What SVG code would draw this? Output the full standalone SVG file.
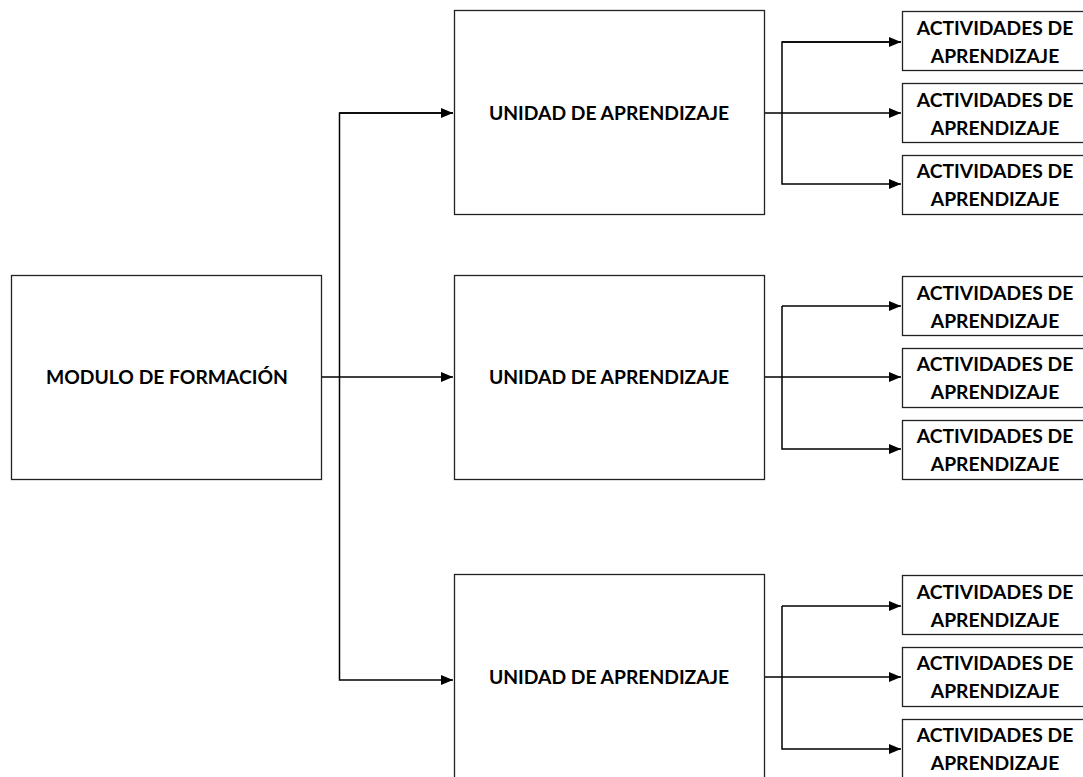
<svg xmlns="http://www.w3.org/2000/svg" width="1083" height="777" viewBox="0 0 1083 777">
<defs>
<style>
.box{fill:#fff;stroke:#222;stroke-width:1.3}
.t{font-family:Lato,"Open Sans",sans-serif;font-weight:bold;font-size:19.3px;fill:#000;text-anchor:middle}
.c{fill:none;stroke:#000;stroke-width:1.5}
</style>
<marker id="ah" markerWidth="12" markerHeight="10" refX="12" refY="5" orient="auto" markerUnits="userSpaceOnUse">
<path d="M0,0 L12,5 L0,10 Z" fill="#000"/>
</marker>
</defs>
<rect width="1083" height="777" fill="#fff"/>
<g id="connectors">
<path class="c" d="M322,377 H453" marker-end="url(#ah)"/>
<path class="c" d="M453,113 H339.5 V680 H453" marker-end="url(#ah)"/>
<path class="c" d="M339.5,113 H453" marker-end="url(#ah)"/>
<path class="c" d="M764,113 H901" marker-end="url(#ah)"/>
<path class="c" d="M901,42 H782 V184 H901" marker-end="url(#ah)"/>
<path class="c" d="M782,42 H901" marker-end="url(#ah)"/>
<path class="c" d="M764,377 H901" marker-end="url(#ah)"/>
<path class="c" d="M782,306 V449 H901" marker-end="url(#ah)"/>
<path class="c" d="M782,306 H901" marker-end="url(#ah)"/>
<path class="c" d="M764,677 H901" marker-end="url(#ah)"/>
<path class="c" d="M782,606 V749 H901" marker-end="url(#ah)"/>
<path class="c" d="M782,606 H901" marker-end="url(#ah)"/>
</g>
<g id="modulo"><rect class="box" x="11.5" y="275.5" width="310" height="204"/><text class="t" x="167" y="384">MODULO DE FORMACIÓN</text></g>
<g id="unidad1"><rect class="box" x="454.5" y="10.5" width="310" height="204"/><text class="t" x="609" y="120">UNIDAD DE APRENDIZAJE</text></g>
<g id="unidad2"><rect class="box" x="454.5" y="275.5" width="310" height="204"/><text class="t" x="609" y="384">UNIDAD DE APRENDIZAJE</text></g>
<g id="unidad3"><rect class="box" x="454.5" y="574.5" width="310" height="210"/><text class="t" x="609" y="684">UNIDAD DE APRENDIZAJE</text></g>
<g id="act1a"><rect class="box" x="902.5" y="11.5" width="190" height="59"/><text class="t" x="995" y="35">ACTIVIDADES DE</text><text class="t" x="995" y="63">APRENDIZAJE</text></g>
<g id="act1b"><rect class="box" x="902.5" y="83.5" width="190" height="59"/><text class="t" x="995" y="107">ACTIVIDADES DE</text><text class="t" x="995" y="135">APRENDIZAJE</text></g>
<g id="act1c"><rect class="box" x="902.5" y="155.5" width="190" height="59"/><text class="t" x="995" y="178">ACTIVIDADES DE</text><text class="t" x="995" y="206">APRENDIZAJE</text></g>
<g id="act2a"><rect class="box" x="902.5" y="276.5" width="190" height="59"/><text class="t" x="995" y="300">ACTIVIDADES DE</text><text class="t" x="995" y="328">APRENDIZAJE</text></g>
<g id="act2b"><rect class="box" x="902.5" y="348.5" width="190" height="59"/><text class="t" x="995" y="371">ACTIVIDADES DE</text><text class="t" x="995" y="399">APRENDIZAJE</text></g>
<g id="act2c"><rect class="box" x="902.5" y="420.5" width="190" height="59"/><text class="t" x="995" y="443">ACTIVIDADES DE</text><text class="t" x="995" y="471">APRENDIZAJE</text></g>
<g id="act3a"><rect class="box" x="902.5" y="575.5" width="190" height="59"/><text class="t" x="995" y="599">ACTIVIDADES DE</text><text class="t" x="995" y="627">APRENDIZAJE</text></g>
<g id="act3b"><rect class="box" x="902.5" y="647.5" width="190" height="59"/><text class="t" x="995" y="670">ACTIVIDADES DE</text><text class="t" x="995" y="698">APRENDIZAJE</text></g>
<g id="act3c"><rect class="box" x="902.5" y="719.5" width="190" height="70"/><text class="t" x="995" y="742">ACTIVIDADES DE</text><text class="t" x="995" y="770">APRENDIZAJE</text></g>
</svg>
